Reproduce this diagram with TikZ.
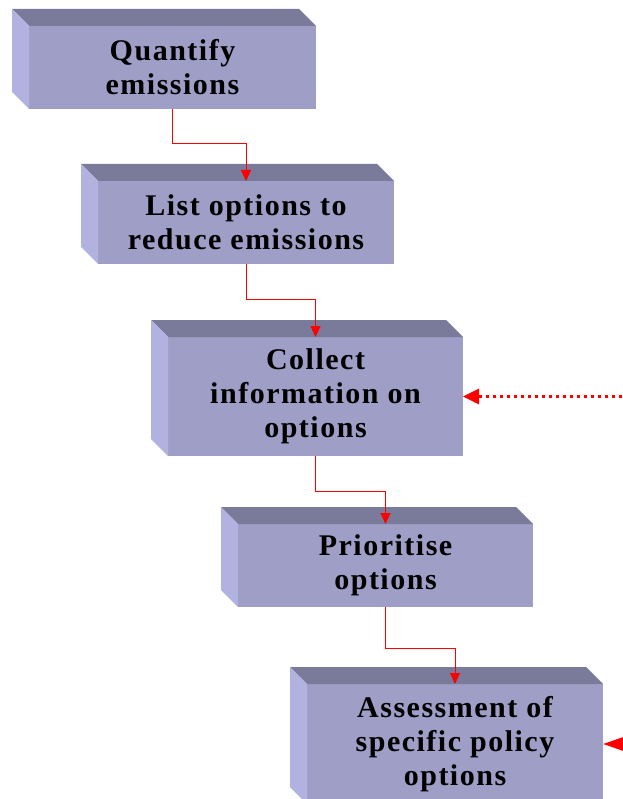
\documentclass[tikz,border=0pt]{standalone}
\usepackage{fontspec}
\setmainfont{Liberation Serif}[LetterSpace=5]
\usetikzlibrary{arrows.meta,calc}
\definecolor{frontc}{RGB}{158,158,198}
\definecolor{topc}{RGB}{122,122,154}
\definecolor{sidec}{RGB}{178,178,224}
\definecolor{redc}{RGB}{255,0,0}
\newcommand\cubefaces[1]{%
  \fill[topc] (#1.north west) -- ++(-17,-17) -- ($(#1.north east)+(-17,-17)$) -- (#1.north east) -- cycle;
  \fill[sidec] (#1.north west) -- ++(-17,-17) -- ($(#1.south west)+(-17,-17)$) -- (#1.south west) -- cycle;
}
\begin{document}
\begin{tikzpicture}[x=1pt,y=-1pt,
  frontbox/.style={fill=frontc, draw=none, inner sep=0pt, outer sep=0pt, align=center,
    font=\fontsize{30}{34}\selectfont\bfseries, text=black},
  conn/.style={draw=redc, line width=1pt, -{Triangle[length=11pt,width=10pt]}},
  dotarrow/.style={draw=redc, line width=2.8pt, dash pattern=on 3.5pt off 3.5pt,
    -{Triangle[length=16pt,width=15pt]}}]
\useasboundingbox (0,0) rectangle (622,799);
\node[frontbox, minimum width=287pt, minimum height=83pt] (b1) at (172.5,67.5) {Quantify\\emissions};
\node[frontbox, minimum width=296pt, minimum height=83pt] (b2) at (246,222.5) {List options to\\reduce emissions};
\node[frontbox, minimum width=295pt, minimum height=119pt] (b3) at (315.5,396.5) {Collect\\information on\\options};
\node[frontbox, minimum width=295pt, minimum height=83pt] (b4) at (385.5,565.5) {Prioritise\\options};
\node[frontbox, minimum width=296pt, minimum height=120pt] (b5) at (455,744) {Assessment of\\specific policy\\options};
\cubefaces{b1}
\cubefaces{b2}
\cubefaces{b3}
\cubefaces{b4}
\cubefaces{b5}
\draw[conn] (b1.south) -- ++(0,35) -| (b2.north);
\draw[conn] (b2.south) -- ++(0,35) -| (b3.north);
\draw[conn] (b3.south) -- ++(0,35) -| (b4.north);
\draw[conn] (b4.south) -- ++(0,41) -| (b5.north);
\coordinate (src1) at (622,396.5);
\coordinate (src2) at (626,744);
\draw[dotarrow] (src1) -- (b3.east);
\draw[dotarrow, -{Triangle[length=23pt,width=15pt]}] (src2) -- (b5.east);
\end{tikzpicture}
\end{document}
